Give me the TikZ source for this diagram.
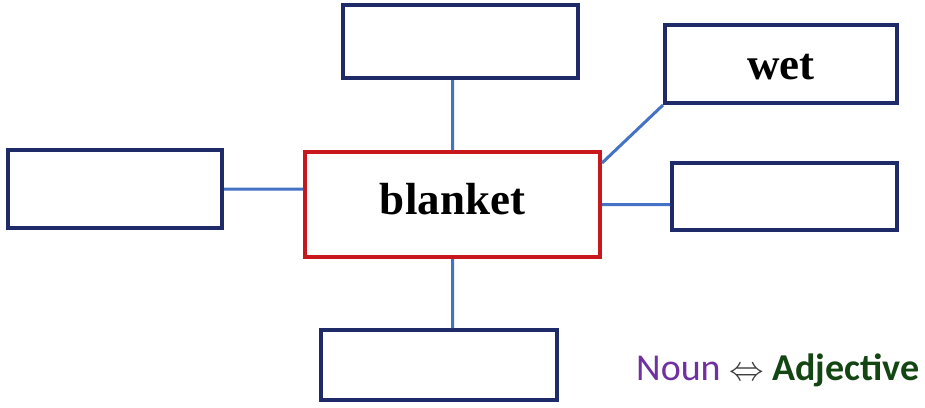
\documentclass[tikz,border=0pt]{standalone}
\usepackage{fontspec}
\setmainfont{Liberation Serif}
\newfontfamily\labelfont{Carlito}
\usetikzlibrary{positioning, calc}
\definecolor{boxcol}{RGB}{31,42,104}
\definecolor{maincol}{RGB}{200,24,30}
\definecolor{linkcol}{RGB}{68,114,196}
\definecolor{nouncol}{RGB}{112,48,160}
\definecolor{adjcol}{RGB}{20,70,20}
\definecolor{arrowcol}{RGB}{60,60,60}

\begin{document}
\begin{tikzpicture}[
			x=0.5pt,
			y=-0.5pt,
			wordbox/.style={
				draw=boxcol,
				rectangle,
				line width=2pt,
				fill=white,
				inner sep=0pt,
				font=\fontsize{22.5}{26}\selectfont\bfseries
			},
			mainbox/.style={
				wordbox,
				draw=maincol,
				minimum width=147.5pt,
				minimum height=52.5pt
			},
			link/.style={
				draw=linkcol,
				line width=1.5pt
			}
			]
			\useasboundingbox (0,0) rectangle (925,407);
			% Boxes
			\node[mainbox] (blanket) at (452.5,204.5) {\raisebox{2.5pt}[\height][\depth]{blanket}};
			\node[wordbox, minimum width=117.5pt, minimum height=36.5pt] (top) at (460.5,41.5) {};
			\node[wordbox, minimum width=116pt, minimum height=39pt] (wet) at (781,64) {\raisebox{-1.5pt}[\height][\depth]{wet}};
			\node[wordbox, minimum width=107pt, minimum height=39pt] (left) at (115,189) {};
			\node[wordbox, minimum width=112.5pt, minimum height=33.5pt] (right) at (784.5,196.5) {};
			\node[wordbox, minimum width=118pt, minimum height=35pt] (bottom) at (439,365) {};
			
			% Connectors
			\path[link]
			(top.south -| blanket.north) -- (blanket.north)
			([yshift=-6.5pt]blanket.north east) -- (wet.south west)
			(left.east) -- (left.east -| blanket.west)
			(blanket.east) -- (blanket.east -| right.west)
			(blanket.south) -- (blanket.south |- bottom.north);
			
			% Legend
			\node[anchor=base east, inner sep=0pt, font=\labelfont\fontsize{19}{22}\selectfont] (legend) at (920,380)
			{\textcolor{nouncol}{Noun} \textcolor{arrowcol}{$\Leftrightarrow$} \textcolor{adjcol}{\bfseries Adjective}};
		\end{tikzpicture}
\end{document}
